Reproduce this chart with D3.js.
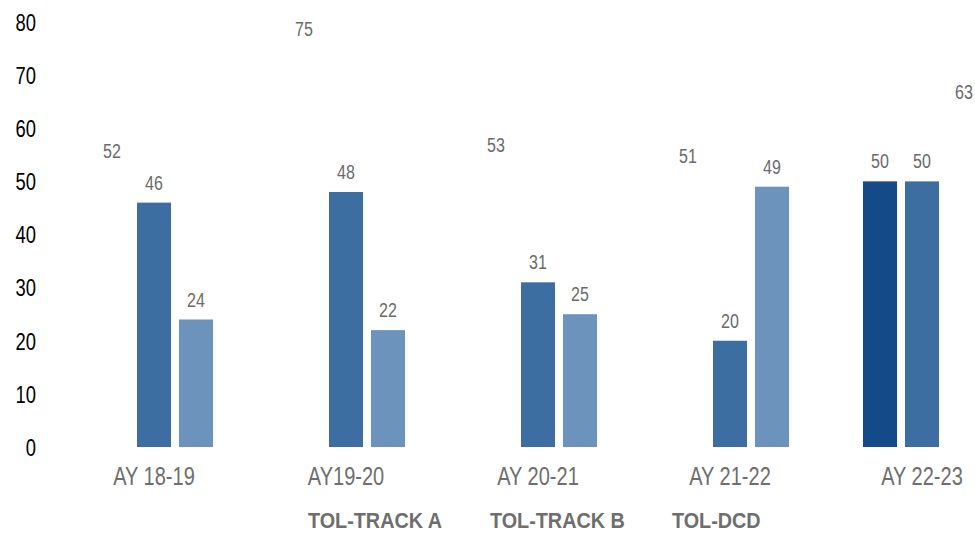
<!DOCTYPE html>
<html>
<head>
<meta charset="utf-8">
<script src="https://cdn.jsdelivr.net/npm/d3@7"></script>
<style>
  html, body { margin: 0; padding: 0; background: #fff; overflow: hidden; }
  svg { display: block; }
  text { font-family: "Liberation Sans Narrow", "Arial Narrow", "Liberation Sans", Arial, sans-serif; }
</style>
</head>
<body>
<svg id="chart" width="975" height="533"></svg>
<script>
// ---- data ----
const categories = ["AY 18-19", "AY19-20", "AY 20-21", "AY 21-22", "AY 22-23"];
const seriesNames = ["TOL-TRACK A", "TOL-TRACK B", "TOL-DCD"];
const trackA = [52, 75, 53, 51, 50];
const trackB = [46, 48, 31, 20, 50];
const dcd    = [24, 22, 25, 49, 63];
const yTicks = [0, 10, 20, 30, 40, 50, 60, 70, 80];

// ---- styles (kept separate from data) ----
// per-series, per-category fill; null = bar not drawn (label only)
const fills = [
  [null, null, null, null, "#134a87"],
  ["#3d6ea2", "#3d6ea2", "#3d6ea2", "#3d6ea2", "#3d6ea2"],
  ["#6c93bb", "#6c93bb", "#6c93bb", "#6c93bb", null]
];
const SX = 0.8;   // horizontal condensing to mimic a narrow font
const SXL = 0.9;  // legend condensing

const seriesValues = [trackA, trackB, dcd];

const svg = d3.select("#chart");

const x0 = d3.scaleBand().domain(categories).range([58, 1018]).padding(0);
const groupW = 126;
const x1 = d3.scaleBand().domain(seriesNames)
  .range([x0.bandwidth() / 2 - groupW / 2, x0.bandwidth() / 2 + groupW / 2])
  .paddingInner(0.19).paddingOuter(0.095);
const y = d3.scaleLinear().domain([0, 80]).range([447, 22]);

// y axis
const yAxis = d3.axisLeft(y).tickValues(yTicks).tickSize(0).tickPadding(0);
const gy = svg.append("g").attr("transform", "translate(36,0)").call(yAxis);
gy.select(".domain").remove();
gy.selectAll("text")
  .attr("fill", "#000")
  .style("font-size", "23px")
  .attr("dy", "0.36em")
  .attr("transform", `scale(${SX},1)`);

// x axis labels
const xAxis = d3.axisBottom(x0).tickSize(0).tickPadding(0);
const gx = svg.append("g").attr("transform", "translate(0,462)").call(xAxis);
gx.select(".domain").remove();
gx.selectAll("text")
  .attr("fill", "#6e6e6e")
  .style("font-size", "25px")
  .attr("dy", 0)
  .attr("y", 23)
  .attr("transform", `scale(${SX},1)`);

// bars
const flat = [];
seriesValues.forEach((vals, si) => {
  vals.forEach((v, ci) => {
    flat.push({ s: seriesNames[si], si, c: categories[ci], ci, v, fill: fills[si][ci] });
  });
});

const g = svg.append("g");
g.selectAll("rect")
  .data(flat.filter(d => d.fill))
  .join("rect")
  .attr("x", d => x0(d.c) + x1(d.s))
  .attr("width", x1.bandwidth())
  .attr("y", d => y(d.v))
  .attr("height", d => y(0) - y(d.v))
  .attr("fill", d => d.fill);

g.selectAll("text.lbl")
  .data(flat)
  .join("text")
  .attr("class", "lbl")
  .attr("transform", d => `translate(${x0(d.c) + x1(d.s) + x1.bandwidth() / 2},${y(d.v) - 13}) scale(${SX},1)`)
  .attr("text-anchor", "middle")
  .attr("fill", "#6a6a6a")
  .style("font-size", "20px")
  .text(d => d.v);

// legend (text only)
const legendX = [308, 490, 672];
svg.append("g").selectAll("text")
  .data(seriesNames)
  .join("text")
  .attr("transform", (d, i) => `translate(${legendX[i]},528) scale(${SXL},1)`)
  .attr("fill", "#6e6e6e")
  .style("font-size", "22px")
  .style("font-weight", "bold")
  .text(d => d);
</script>
</body>
</html>
